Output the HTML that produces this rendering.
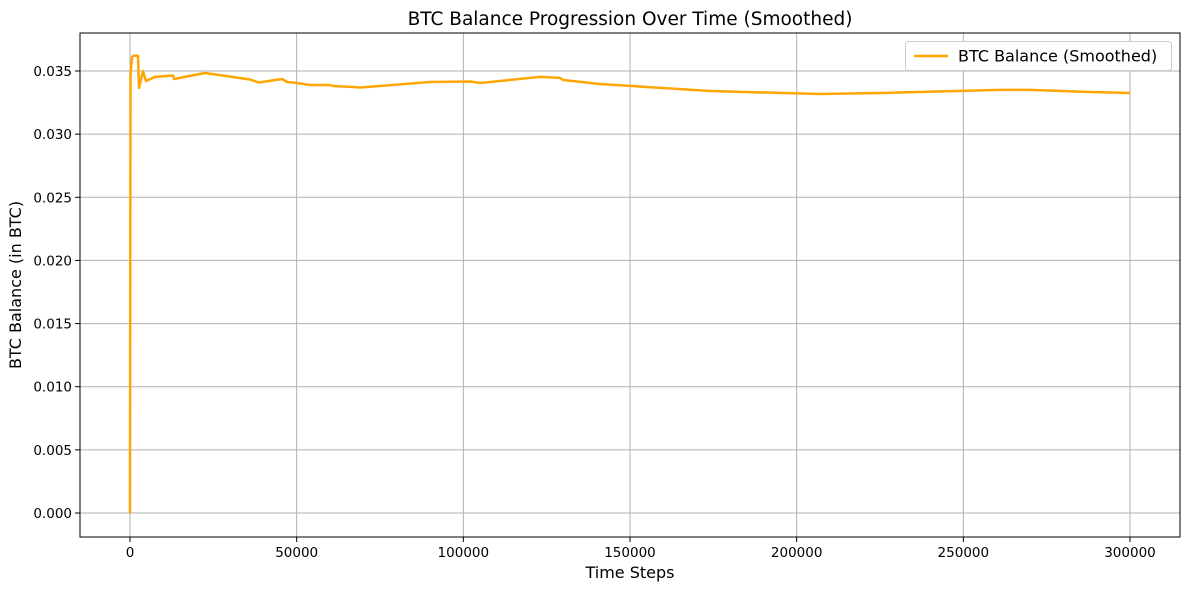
<!DOCTYPE html>
<html><head><meta charset="utf-8"><style>
body{margin:0;background:#fff}
svg text{font-family:"DejaVu Sans","Liberation Sans",sans-serif;fill:#000}
</style></head><body>
<svg width="1190" height="590" xmlns="http://www.w3.org/2000/svg">
<rect width="1190" height="590" fill="#fff"/>
<g id="grid"></g>
<g id="axes"></g>
<path id="line" fill="none" stroke="#FFA500" stroke-width="2.5" stroke-linejoin="round"/>
<rect x="80" y="33" width="1100" height="504" fill="none" stroke="#000" stroke-width="1"/>
<text x="630" y="25" font-size="18.5" text-anchor="middle">BTC Balance Progression Over Time (Smoothed)</text>
<text x="630" y="578" font-size="16" text-anchor="middle">Time Steps</text>
<text transform="translate(21,285) rotate(-90)" font-size="16" text-anchor="middle">BTC Balance (in BTC)</text>
<g>
<rect x="905.5" y="41.5" width="266" height="29" rx="3" fill="#fff" stroke="#ccc"/>
<line x1="914" y1="56" x2="948" y2="56" stroke="#FFA500" stroke-width="2.5"/>
<text x="958" y="61.5" font-size="16">BTC Balance (Smoothed)</text>
</g>
</svg>
<script>
const steps=[0,150,600,900,2100,2400,2700,3900,4800,7500,12900,13200,22500,36000,38700,45600,47100,50100,54000,60000,60900,66900,69000,75000,90000,102000,105000,111000,123000,129000,129900,141000,174000,207000,225000,261000,270000,288000,300000];
const balances=[0,0.0347,0.03611,0.03619,0.03623,0.03619,0.03365,0.0350,0.03421,0.03453,0.03464,0.03437,0.03484,0.03433,0.03409,0.03437,0.03413,0.03405,0.03389,0.03389,0.03381,0.03373,0.03369,0.03381,0.03413,0.03417,0.03405,0.03421,0.03453,0.03445,0.03429,0.03397,0.03342,0.03318,0.03326,0.0335,0.0335,0.03334,0.03326];
const xTicks=[0,50000,100000,150000,200000,250000,300000];
const yTicks=[0,0.005,0.01,0.015,0.02,0.025,0.03,0.035];
const X=v=>130+v/300000*1000;
const Y=v=>513-v*442/0.035;
const ns="http://www.w3.org/2000/svg";
const grid=document.getElementById('grid'),axes=document.getElementById('axes');
function mk(tag,attrs,parent,txt){const e=document.createElementNS(ns,tag);for(const k in attrs)e.setAttribute(k,attrs[k]);if(txt!==undefined)e.textContent=txt;parent.appendChild(e);return e;}
xTicks.forEach(t=>{const x=X(t);
const g=mk('line',{x1:x,x2:x,y1:33,y2:537,stroke:'#b0b0b0','stroke-width':1},grid);


mk('line',{x1:x,x2:x,y1:537,y2:542,stroke:'#000'},axes);
const l=mk('text',{x:x,y:557,'font-size':13.5,'text-anchor':'middle'},axes,String(t));

});
yTicks.forEach(t=>{const y=Y(t);
const g=mk('line',{x1:80,x2:1180,y1:y,y2:y,stroke:'#b0b0b0','stroke-width':1},grid);


mk('line',{x1:75,x2:80,y1:y,y2:y,stroke:'#000'},axes);
const l=mk('text',{x:72,y:y+5,'font-size':13.5,'text-anchor':'end'},axes,t.toFixed(3));

});
document.getElementById('line').setAttribute('d',steps.map((s,i)=>(i?'L':'M')+X(s).toFixed(1)+','+Y(balances[i]).toFixed(1)).join(''));
</script>
</body></html>
